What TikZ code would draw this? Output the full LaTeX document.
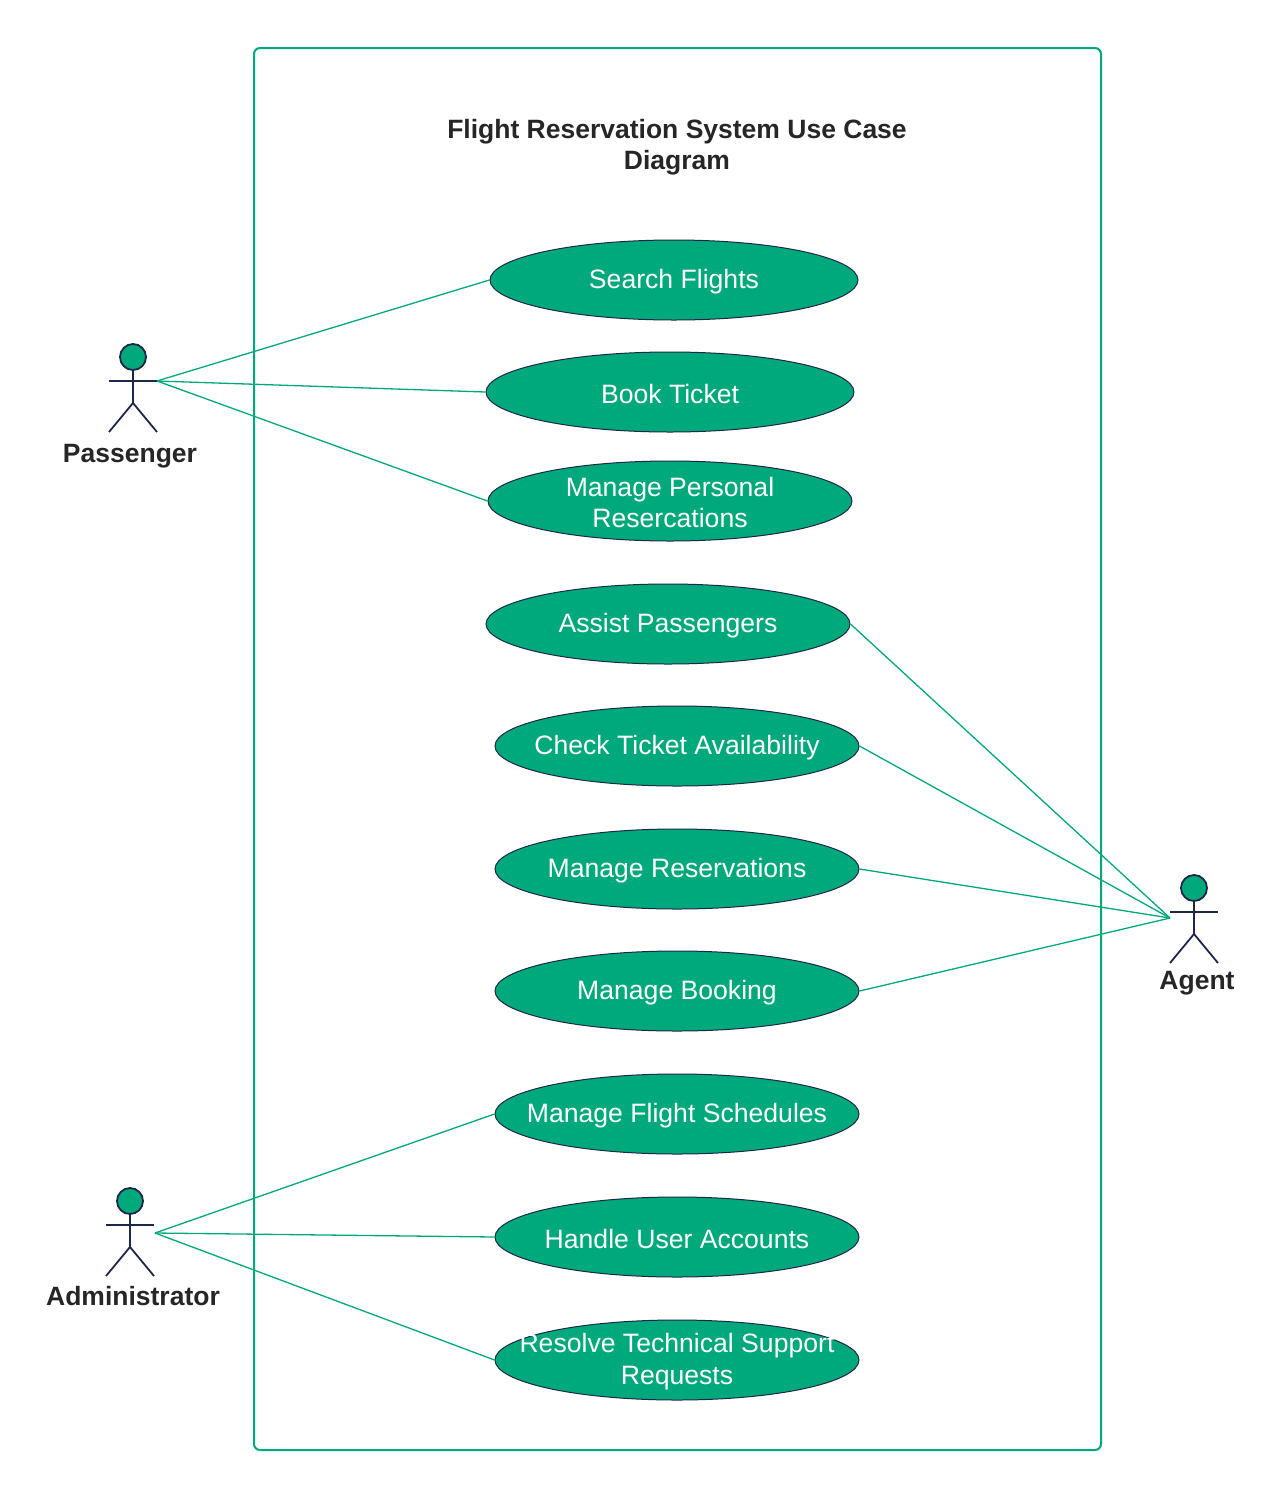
\documentclass[tikz,border=0pt]{standalone}
\usepackage{fontspec}
\setmainfont{Liberation Sans}
\usetikzlibrary{shapes.geometric}
\definecolor{ucg}{HTML}{00A97C}
\definecolor{ucb}{HTML}{1E2748}
\begin{document}
\begin{tikzpicture}[x=1pt,y=-1pt,
  uc/.style={ellipse,draw=ucb,fill=ucg,line width=1pt,minimum height=80pt,inner sep=0pt},
  uct/.style={text=white,font=\fontsize{26.6}{31.5}\selectfont,align=center,inner sep=0pt},
  lnk/.style={draw=ucg,line width=1.3pt},
  act/.style={draw=ucb,line width=1.8pt},
  lab/.style={font=\fontsize{26.5}{31}\selectfont\bfseries,text=black!85}]
\useasboundingbox (0,0) rectangle (1281,1500);
\draw[ucg,line width=2pt,rounded corners=6pt] (254,48) rectangle (1101,1450);
\node[lab,align=center] (title) at (677,147) {Flight Reservation System Use Case\\Diagram};
\foreach \n/\x/\y/\w/\t in {sf/674/280/368/{Search Flights},bt/670/392/368/{Book Ticket},mp/670/501/364/{Manage Personal\\Resercations},ap/668/624/364/{Assist Passengers},ct/677/746/364/{Check Ticket Availability},mr/677/869/364/{Manage Reservations},mb/677/991/364/{Manage Booking},ms/677/1114/364/{Manage Flight Schedules},hu/677/1237/364/{Handle User Accounts},rt/677/1360/364/{Resolve Technical Support\\Requests}}{
  \node[uc,minimum width=\w pt] (\n) at (\x,\y) {};
  \node[uct] (\n t) at (\x,\y+1.5) {\t};
}
% actors
\foreach \n/\cx/\cy/\lx/\ly/\t in {pa/133/357/130/456/Passenger,ag/1194/888/1197/983/Agent,ad/130/1201/133/1296/Administrator}{
  \draw[act,fill=ucg] (\cx,\cy) circle (13);
  \draw[act] (\cx,\cy+13) -- (\cx,\cy+46) -- (\cx-24,\cy+75);
  \draw[act] (\cx,\cy+46) -- (\cx+24,\cy+75);
  \draw[act] (\cx-24,\cy+24) -- (\cx+24,\cy+24);
  \node[lab] (\n) at (\lx,\ly) {\t};
}
\coordinate (pp) at (157,381);
\coordinate (gp) at (1170,918);
\coordinate (dp) at (155,1233);
\draw[lnk] (pp) -- (sf.west);
\draw[lnk] (pp) -- (bt.west);
\draw[lnk] (pp) -- (mp.west);
\draw[lnk] (gp) -- (ap.east);
\draw[lnk] (gp) -- (ct.east);
\draw[lnk] (gp) -- (mr.east);
\draw[lnk] (gp) -- (mb.east);
\draw[lnk] (dp) -- (ms.west);
\draw[lnk] (dp) -- (hu.west);
\draw[lnk] (dp) -- (rt.west);
\end{tikzpicture}
\end{document}
